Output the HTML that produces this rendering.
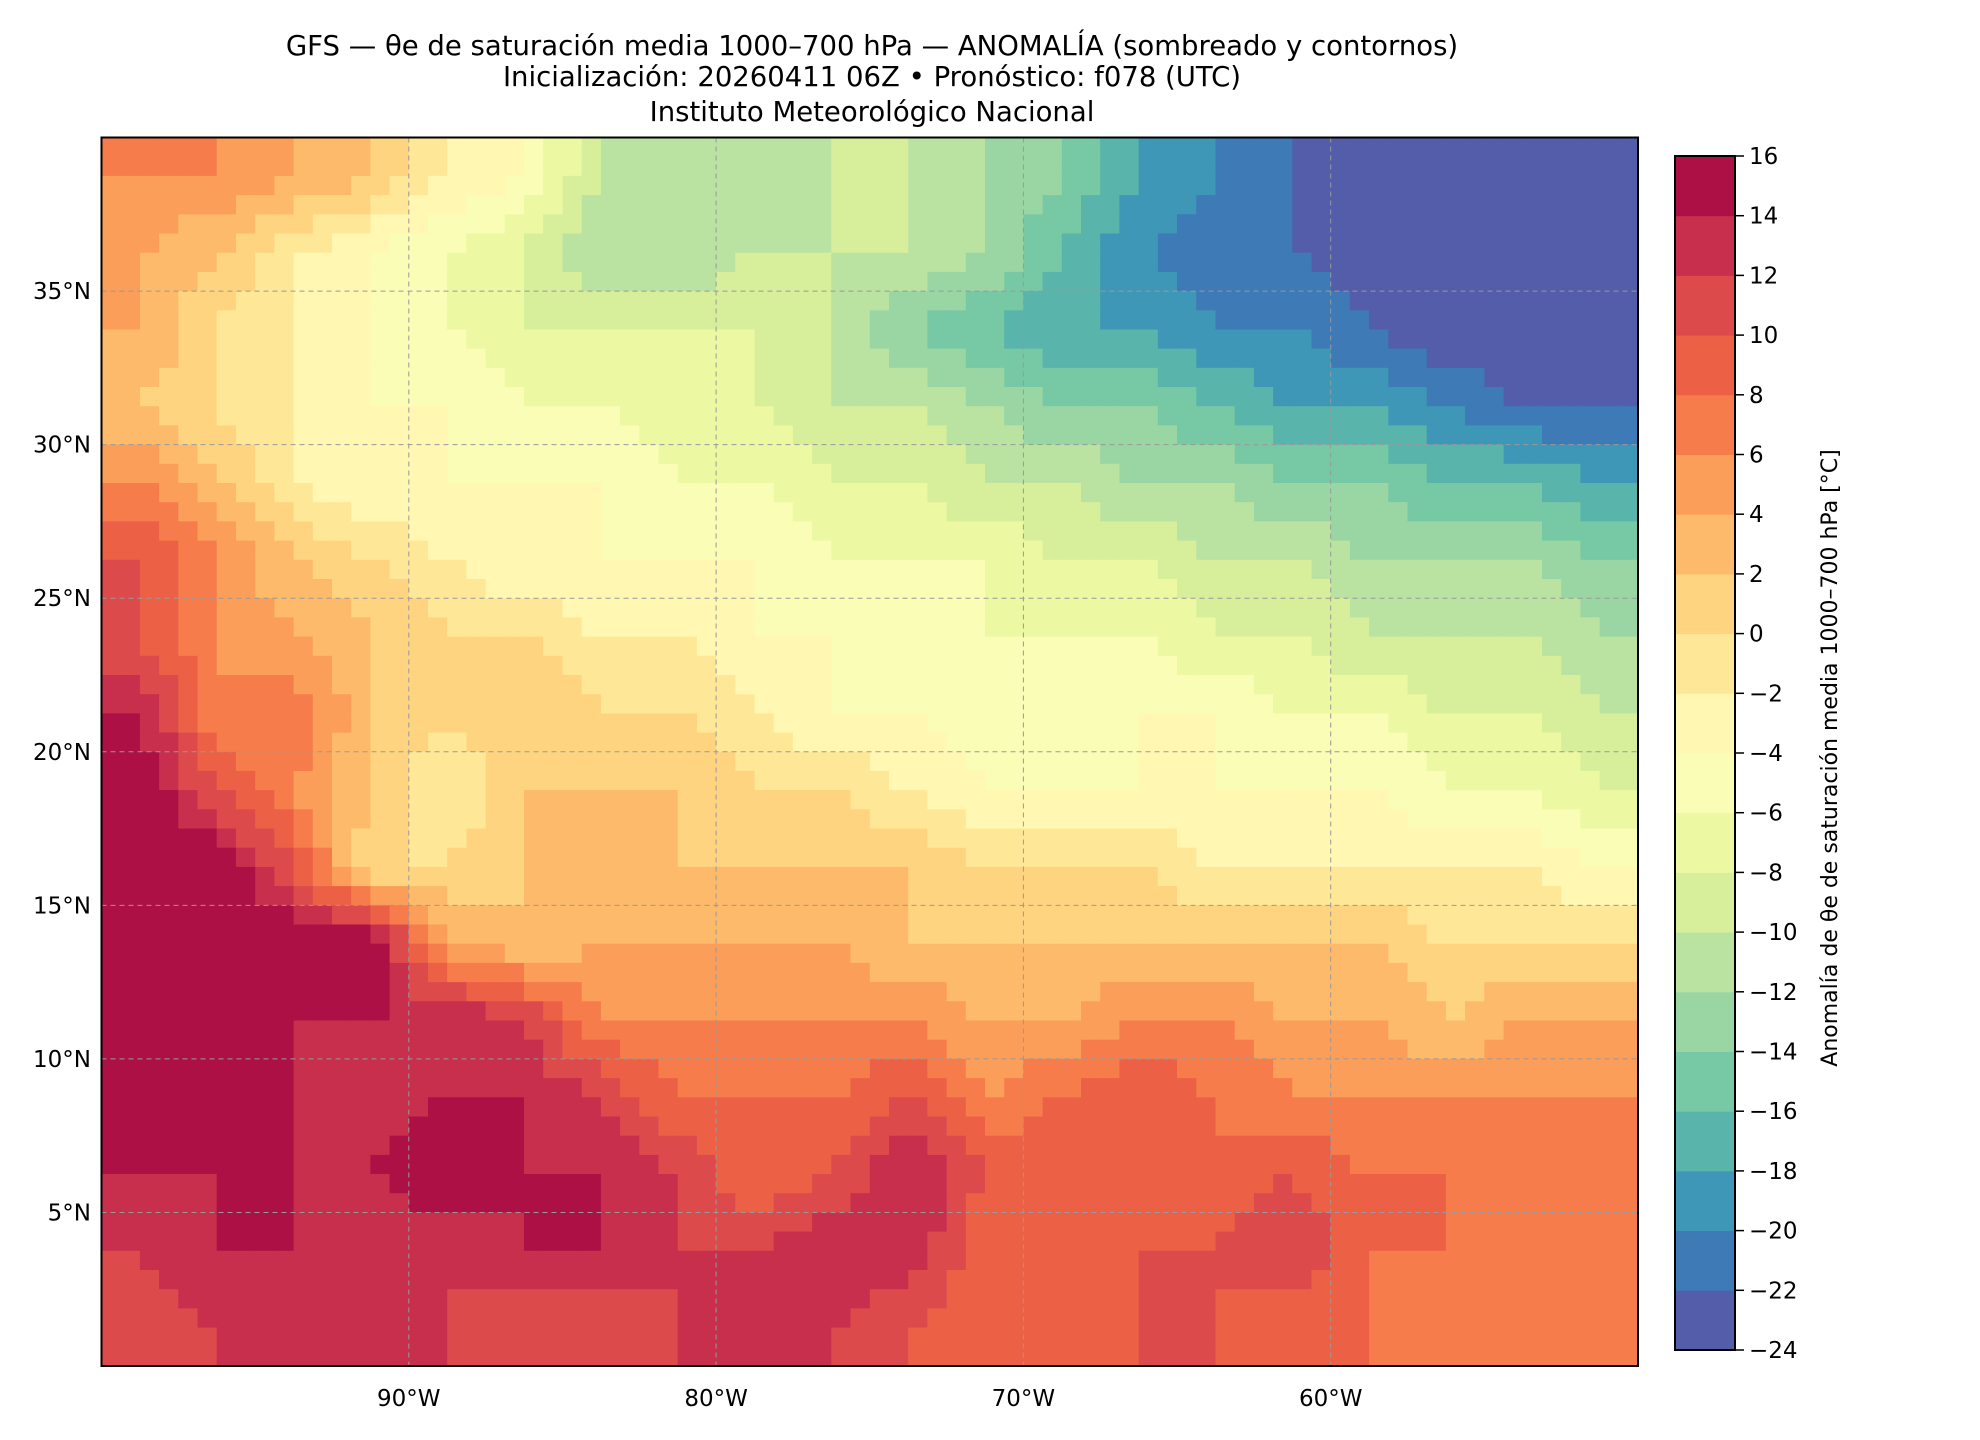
<!DOCTYPE html>
<html><head><meta charset="utf-8"><style>
html,body{margin:0;padding:0;background:#fff;}
svg{display:block;font-family:"DejaVu Sans","Liberation Sans",sans-serif;}
</style></head><body>
<svg id="chart" width="1980" height="1440" viewBox="0 0 1980 1440">
<g font-size="27.5" text-anchor="middle" fill="#000">
<text x="872" y="55">GFS — θe de saturación media 1000–700 hPa — ANOMALÍA (sombreado y contornos)</text>
<text x="872" y="86">Inicialización: 20260411 06Z   •   Pronóstico: f078 (UTC)</text>
<text x="872" y="121">Instituto Meteorológico Nacional</text>
</g>
<g id="cells"></g>
<g id="grid"></g>
<rect x="101.5" y="137.5" width="1536.5" height="1228.5" fill="none" stroke="#000" stroke-width="2"/>
<g id="axes" font-size="23" fill="#000"></g>
<g id="cbar"></g>
<text transform="translate(1837,758) rotate(-90)" text-anchor="middle" font-size="22">Anomalía de θe de saturación media 1000–700 hPa [°C]</text>
</svg>
<script>
const lats=[38.75,36.25,33.75,31.25,28.75,26.25,23.75,21.25,18.75,16.25,13.75,11.25,8.75,6.25,3.75,1.25];
const lons=[-98.75,-96.25,-93.75,-91.25,-88.75,-86.25,-83.75,-81.25,-78.75,-76.25,-73.75,-71.25,-68.75,-66.25,-63.75,-61.25,-58.75,-56.25,-53.75,-51.25];
const anom=[
[6,6,4,2,-2,-4,-10,-12,-12,-10,-10,-12,-14,-18,-20,-22,-24,-24,-24,-24],
[4,2,-2,-4,-6,-8,-12,-12,-10,-10,-10,-12,-16,-20,-22,-22,-24,-24,-24,-24],
[4,0,-2,-4,-6,-8,-8,-8,-8,-10,-14,-16,-18,-18,-20,-20,-22,-24,-24,-24],
[2,0,-2,-4,-4,-6,-6,-8,-8,-10,-10,-12,-14,-14,-16,-18,-18,-20,-22,-22],
[6,2,-2,-4,-4,-4,-4,-6,-6,-8,-8,-10,-10,-12,-12,-14,-14,-16,-16,-18],
[10,6,2,0,-2,-4,-4,-4,-4,-6,-6,-6,-8,-8,-10,-10,-12,-12,-12,-14],
[10,6,4,2,0,0,-2,-2,-4,-4,-6,-6,-6,-6,-8,-8,-10,-10,-10,-12],
[14,6,8,2,0,2,0,0,-2,-4,-4,-6,-6,-4,-4,-6,-6,-8,-8,-10],
[16,10,6,2,-2,2,2,2,0,0,-2,-4,-4,-4,-4,-4,-4,-6,-6,-8],
[16,16,10,0,0,2,2,2,2,2,2,0,0,0,-2,-2,-2,-2,-2,-4],
[16,16,16,16,4,2,4,4,4,4,2,2,2,2,2,2,2,0,0,0],
[14,14,14,14,14,12,6,6,6,6,6,4,4,6,6,4,4,2,4,4],
[14,14,14,12,14,14,12,8,8,8,10,6,8,10,8,6,6,6,6,6],
[14,14,14,14,16,14,14,12,8,10,14,10,10,10,8,10,8,8,8,8],
[12,14,14,12,12,14,14,12,12,14,14,8,8,10,10,12,8,8,6,6],
[10,12,12,12,12,10,10,12,14,12,10,8,8,10,10,8,8,6,6,6]];
const levels=[-24,-22,-20,-18,-16,-14,-12,-10,-8,-6,-4,-2,0,2,4,6,8,10,12,14,16];
const lonTicks=[-90,-80,-70,-60];
const lonLabels=["90°W","80°W","70°W","60°W"];
const latTicks=[5,10,15,20,25,30,35];
const latLabels=["5°N","10°N","15°N","20°N","25°N","30°N","35°N"];

const X0=101.5,X1=1638,Y0=137.5,Y1=1366;
const xs=lon=>X0+(lon+100)/50*(X1-X0);
const ys=lat=>Y1-(lat/40)*(Y1-Y0);
const NS="http://www.w3.org/2000/svg";
const spec=["#9e0142","#d53e4f","#f46d43","#fdae61","#fee08b","#ffffbf","#e6f598","#abdda4","#66c2a5","#3288bd","#5e4fa2"];
function hex(h){return [1,3,5].map(i=>parseInt(h.substr(i,2),16));}
function cmap(t){
  const f=(1-t)*10;const i=Math.min(9,Math.floor(f));const r=f-i;
  const a=hex(spec[i]),b=hex(spec[i+1]);
  return "rgb("+a.map((v,k)=>Math.round(v+(b[k]-v)*r)).join(",")+")";
}
const nb=levels.length-1;
function colorFor(v){let i=Math.floor((v-levels[0])/2);i=Math.max(0,Math.min(nb-1,i));return cmap((i+0.5)/nb);}
function val(lat,lon){
  let fi=(lats[0]-lat)/2.5, fj=(lon-lons[0])/2.5;
  fi=Math.max(0,Math.min(lats.length-1,fi));fj=Math.max(0,Math.min(lons.length-1,fj));
  const i=Math.min(lats.length-2,Math.floor(fi)),j=Math.min(lons.length-2,Math.floor(fj));
  const a=fi-i,b=fj-j;
  return anom[i][j]*(1-a)*(1-b)+anom[i+1][j]*a*(1-b)+anom[i][j+1]*(1-a)*b+anom[i+1][j+1]*a*b;
}
const cells=document.getElementById('cells');
const sub=4,d=2.5/sub;
for(let r=0;r<16*sub;r++){for(let c=0;c<20*sub;c++){
  const lat=40-(r+0.5)*d, lon=-100+(c+0.5)*d;
  const el=document.createElementNS(NS,'rect');
  const x=xs(lon-d/2),y=ys(lat+d/2);
  el.setAttribute('x',x.toFixed(1));el.setAttribute('y',y.toFixed(1));
  el.setAttribute('width',(xs(lon+d/2)-x+0.6).toFixed(1));el.setAttribute('height',(ys(lat-d/2)-y+0.6).toFixed(1));
  el.setAttribute('fill',colorFor(val(lat,lon)));
  
  
  cells.appendChild(el);
}}
const grid=document.getElementById('grid'),axes=document.getElementById('axes');
lonTicks.forEach((lon,i)=>{
  const l=document.createElementNS(NS,'line');
  l.setAttribute('x1',xs(lon));l.setAttribute('x2',xs(lon));l.setAttribute('y1',Y0);l.setAttribute('y2',Y1);
  l.setAttribute('stroke','#999');l.setAttribute('stroke-dasharray','5,4');l.setAttribute('stroke-width','1');
  
  
  grid.appendChild(l);
  const t=document.createElementNS(NS,'text');
  t.setAttribute('x',xs(lon));t.setAttribute('y',1406);t.setAttribute('text-anchor','middle');
  t.textContent=lonLabels[i];
  
  
  axes.appendChild(t);
});
latTicks.forEach((lat,i)=>{
  const l=document.createElementNS(NS,'line');
  l.setAttribute('x1',X0);l.setAttribute('x2',X1);l.setAttribute('y1',ys(lat));l.setAttribute('y2',ys(lat));
  l.setAttribute('stroke','#999');l.setAttribute('stroke-dasharray','5,4');l.setAttribute('stroke-width','1');
  
  
  grid.appendChild(l);
  const t=document.createElementNS(NS,'text');
  t.setAttribute('x',91);t.setAttribute('y',ys(lat)+8);t.setAttribute('text-anchor','end');
  t.textContent=latLabels[i];
  
  
  axes.appendChild(t);
});
const cb=document.getElementById('cbar');
const CX=1675,CW=60,CT=156,CB=1350;
const cy=v=>CB-(v-levels[0])/(levels[nb]-levels[0])*(CB-CT);
for(let i=0;i<nb;i++){
  const r=document.createElementNS(NS,'rect');
  r.setAttribute('x',CX);r.setAttribute('y',cy(levels[i+1]));r.setAttribute('width',CW);
  r.setAttribute('height',(cy(levels[i])-cy(levels[i+1])+0.5).toFixed(1));
  r.setAttribute('fill',cmap((i+0.5)/nb));
  
  
  cb.appendChild(r);
}
levels.forEach(v=>{
  const l=document.createElementNS(NS,'line');
  l.setAttribute('x1',CX+CW);l.setAttribute('x2',CX+CW+9);l.setAttribute('y1',cy(v));l.setAttribute('y2',cy(v));
  l.setAttribute('stroke','#000');l.setAttribute('stroke-width','1.5');
  
  
  cb.appendChild(l);
  const t=document.createElementNS(NS,'text');
  t.setAttribute('x',CX+CW+14);t.setAttribute('y',cy(v)+8);t.setAttribute('font-size','23');
  t.textContent=(v<0?'−':'')+Math.abs(v);
  
  
  cb.appendChild(t);
});
const fr=document.createElementNS(NS,'rect');
fr.setAttribute('x',CX);fr.setAttribute('y',CT);fr.setAttribute('width',CW);fr.setAttribute('height',CB-CT);
fr.setAttribute('fill','none');fr.setAttribute('stroke','#000');fr.setAttribute('stroke-width','2');


cb.appendChild(fr);
</script>
</body></html>
